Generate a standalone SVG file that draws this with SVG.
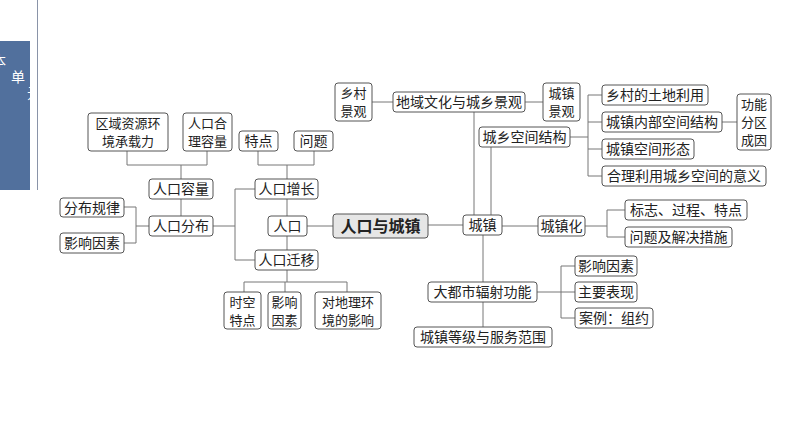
<svg xmlns="http://www.w3.org/2000/svg" width="794" height="447" viewBox="0 0 794 447">
<style>
.b rect{fill:#fff;stroke:#555;stroke-width:1}
text{font-family:"Noto Sans CJK SC","Noto Sans",sans-serif;font-size:14px;fill:#222;text-anchor:middle}
.s text{font-size:13px}
#c path{fill:none;stroke:#777;stroke-width:1}
</style>
<defs><clipPath id="bar"><rect x="0" y="41" width="30" height="149"/></clipPath></defs>
<rect width="794" height="447" fill="#fff"/>
<g id="sidebar">
<rect x="0" y="41" width="30" height="149" fill="#51709d"/>
<line x1="37.5" y1="0" x2="37.5" y2="190" stroke="#8a94a8" stroke-width="1"/>
<g clip-path="url(#bar)">
<text x="-1" y="66" style="fill:#fff">本</text>
<text x="18" y="82" style="fill:#fff">单</text>
<text x="34" y="98" style="fill:#fff">元</text>
</g>
</g>
<g id="c">
<path d="M127 151V165H207V151M181 165V179"/>
<path d="M181 199V216"/>
<path d="M124 207H136V243H124M136 226H149"/>
<path d="M213 226H235M235 189V260M235 189H255M235 260H255"/>
<path d="M258 151V165H314V151M287 165V179M287 199V216M287 236V250M287 270V282M244 292V282H347V292M285 282V292"/>
<path d="M307 226H333M428 225H463"/>
<path d="M372 102H393M525 102H543M474 112V215M491 147V215"/>
<path d="M570 137H588M588 95V176M588 95H602M588 122H602M588 149H602M588 176H602M722 122H737"/>
<path d="M502 226H538M585 226H607M607 210V237M607 210H625M607 237H625"/>
<path d="M483 235V282M483 302V327"/>
<path d="M537 292H561M561 266V318M561 266H575M561 292H575M561 318H575"/>
</g>
<g class="b s" id="n1"><rect x="88" y="113" width="80" height="38" rx="3"/><text x="128" y="128">区域资源环</text><text x="128" y="146">境承载力</text></g>
<g class="b s" id="n2"><rect x="183" y="113" width="49" height="38" rx="3"/><text x="207.5" y="128">人口合</text><text x="207.5" y="146">理容量</text></g>
<g class="b" id="n3"><rect x="239" y="131" width="39" height="20" rx="3"/><text x="258.5" y="146">特点</text></g>
<g class="b" id="n4"><rect x="294" y="131" width="39" height="20" rx="3"/><text x="313.5" y="146">问题</text></g>
<g class="b" id="n5"><rect x="149" y="179" width="64" height="20" rx="3"/><text x="181" y="194">人口容量</text></g>
<g class="b" id="n6"><rect x="149" y="216" width="64" height="20" rx="3"/><text x="181" y="231">人口分布</text></g>
<g class="b" id="n7"><rect x="60" y="198" width="64" height="19" rx="3"/><text x="92" y="213">分布规律</text></g>
<g class="b" id="n8"><rect x="60" y="233" width="64" height="20" rx="3"/><text x="92" y="248">影响因素</text></g>
<g class="b" id="n9"><rect x="255" y="179" width="63" height="20" rx="3"/><text x="286.5" y="194">人口增长</text></g>
<g class="b" id="n10"><rect x="268" y="216" width="39" height="20" rx="3"/><text x="287.5" y="231">人口</text></g>
<g class="b" id="n11"><rect x="255" y="250" width="63" height="20" rx="3"/><text x="286.5" y="265">人口迁移</text></g>
<g class="b s" id="n12"><rect x="224" y="292" width="37" height="37" rx="3"/><text x="242.5" y="307">时空</text><text x="242.5" y="325">特点</text></g>
<g class="b s" id="n13"><rect x="268" y="292" width="33" height="37" rx="3"/><text x="284.5" y="307">影响</text><text x="284.5" y="325">因素</text></g>
<g class="b s" id="n14"><rect x="315" y="292" width="66" height="37" rx="3"/><text x="348" y="307">对地理环</text><text x="348" y="325">境的影响</text></g>
<g id="root"><rect x="333" y="214" width="95" height="24" rx="3" fill="#e6e6e6" stroke="#555"/><text x="380.5" y="232" style="font-size:16px;font-weight:bold">人口与城镇</text></g>
<g class="b s" id="n15"><rect x="335" y="83" width="37" height="38" rx="3"/><text x="353.5" y="98">乡村</text><text x="353.5" y="116">景观</text></g>
<g class="b" id="n16"><rect x="393" y="92" width="132" height="20" rx="3"/><text x="459" y="107">地域文化与城乡景观</text></g>
<g class="b s" id="n17"><rect x="543" y="83" width="37" height="38" rx="3"/><text x="561.5" y="98">城镇</text><text x="561.5" y="116">景观</text></g>
<g class="b" id="n18"><rect x="479" y="127" width="91" height="20" rx="3"/><text x="524.5" y="142">城乡空间结构</text></g>
<g class="b" id="n19"><rect x="602" y="85" width="106" height="20" rx="3"/><text x="655" y="100">乡村的土地利用</text></g>
<g class="b" id="n20"><rect x="602" y="112" width="120" height="20" rx="3"/><text x="662" y="127">城镇内部空间结构</text></g>
<g class="b s" id="n21"><rect x="737" y="94" width="34" height="56" rx="3"/><text x="754" y="109">功能</text><text x="754" y="127">分区</text><text x="754" y="145">成因</text></g>
<g class="b" id="n22"><rect x="602" y="139" width="92" height="20" rx="3"/><text x="648" y="154">城镇空间形态</text></g>
<g class="b" id="n23"><rect x="602" y="166" width="164" height="20" rx="3"/><text x="684" y="181">合理利用城乡空间的意义</text></g>
<g class="b" id="n24"><rect x="463" y="215" width="39" height="20" rx="3"/><text x="482.5" y="230">城镇</text></g>
<g class="b" id="n25"><rect x="538" y="216" width="47" height="20" rx="3"/><text x="561.5" y="231">城镇化</text></g>
<g class="b" id="n26"><rect x="625" y="200" width="122" height="20" rx="3"/><text x="686" y="215">标志、过程、特点</text></g>
<g class="b" id="n27"><rect x="625" y="227" width="107" height="20" rx="3"/><text x="678.5" y="242">问题及解决措施</text></g>
<g class="b" id="n28"><rect x="428" y="282" width="109" height="20" rx="3"/><text x="482.5" y="297">大都市辐射功能</text></g>
<g class="b" id="n29"><rect x="414" y="327" width="138" height="20" rx="3"/><text x="483" y="342">城镇等级与服务范围</text></g>
<g class="b" id="n30"><rect x="575" y="256" width="62" height="20" rx="3"/><text x="606" y="271">影响因素</text></g>
<g class="b" id="n31"><rect x="575" y="282" width="62" height="20" rx="3"/><text x="606" y="297">主要表现</text></g>
<g class="b" id="n32"><rect x="575" y="308" width="78" height="20" rx="3"/><text x="614" y="323">案例：组约</text></g>
</svg>
